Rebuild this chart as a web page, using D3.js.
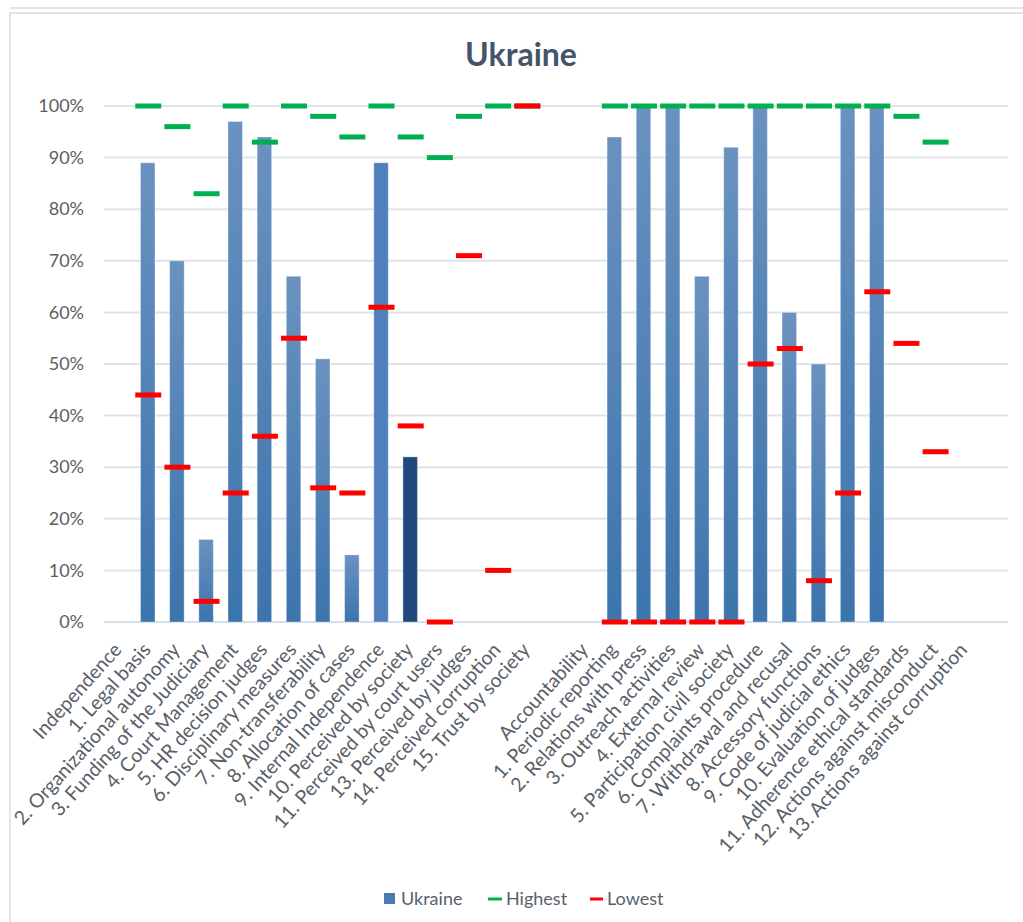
<!DOCTYPE html>
<html>
<head>
  <meta charset="utf-8">
  <title>Ukraine</title>
  <style>
    body { margin: 0; background: #fff; }
    text { font-family: Lato, "Open Sans", sans-serif; }
  </style>
</head>
<body>
  <div class="area"></div>

  <script src="https://cdn.jsdelivr.net/npm/d3@7"></script>
  <script type="text/javascript">

  var W = 1023, H = 922;

  // categories (blank entries are the empty slots between groups)
  var categories = [
    'Independence', '1. Legal basis', '2. Organizational autonomy', '3. Funding of the Judiciary',
    '4. Court Management', '5. HR decision judges', '6. Disciplinary measures', '7. Non-transferability',
    '8. Allocation of cases', '9. Internal Independence', '10. Perceived by society',
    '11. Perceived by court users', '13. Perceived by judges', '14. Perceived corruption',
    '15. Trust by society', '',
    'Accountability', '1. Periodic reporting', '2. Relations with press', '3. Outreach activities',
    '4. External review', '5. Participation civil society', '6. Complaints procedure',
    '7. Withdrawal and recusal', '8. Accessory functions', '9. Code of judicial ethics',
    '10. Evaluation of judges', '11. Adherence ethical standards', '12. Actions against misconduct',
    '13. Actions against corruption', ''
  ];

  var ukraine = [null, 89, 70, 16, 97, 94, 67, 51, 13, 89, 32, null, null, null, null, null,
                 null, 94, 100, 100, 67, 92, 100, 60, 50, 100, 100, null, null, null, null];
  var highest = [null, 100, 96, 83, 100, 93, 100, 98, 94, 100, 94, 90, 98, 100, 100, null,
                 null, 100, 100, 100, 100, 100, 100, 100, 100, 100, 100, 98, 93, null, null];
  var lowest  = [null, 44, 30, 4, 25, 36, 55, 26, 25, 61, 38, 0, 71, 10, 100, null,
                 null, 0, 0, 0, 0, 0, 50, 53, 8, 25, 64, 54, 33, null, null];

  var yTicks = [0, 10, 20, 30, 40, 50, 60, 70, 80, 90, 100];
  var legendItems = ['Ukraine', 'Highest', 'Lowest'];

  var plot = {left: 104, right: 1008, top: 106, bottom: 622};
  var textColor = '#595f69';

  var svg = d3.select('.area')
    .append('svg')
    .attr('width', W)
    .attr('height', H);

  // chart frame (outer box borders)
  svg.append('line').attr('x1', 10).attr('y1', 8).attr('x2', W).attr('y2', 8)
    .attr('stroke', '#e1e4ea').attr('stroke-width', 2);
  svg.append('rect').attr('x', 10).attr('y', 13).attr('width', W + 10).attr('height', H + 10)
    .attr('fill', 'none').attr('stroke', '#e1e4ea').attr('stroke-width', 2);

  svg.append('text')
    .attr('x', 521).attr('y', 66)
    .attr('text-anchor', 'middle')
    .attr('font-size', 32).attr('font-weight', 'bold')
    .attr('fill', '#44546a')
    .text('Ukraine');

  var idx = d3.range(categories.length);
  var x = d3.scaleBand().domain(idx).range([plot.left, plot.right]).padding(0);
  var y = d3.scaleLinear().domain([0, 100]).range([plot.bottom, plot.top]);

  // gradient for the bars
  var defs = svg.append('defs');
  var grad = defs.append('linearGradient').attr('id', 'barGrad')
    .attr('x1', 0).attr('y1', 0).attr('x2', 0).attr('y2', 1);
  grad.append('stop').attr('offset', '0%').attr('stop-color', '#6a92c0');
  grad.append('stop').attr('offset', '100%').attr('stop-color', '#3c74ad');

  // gridlines
  svg.append('g')
    .selectAll('line')
    .data(yTicks)
    .join('line')
    .attr('x1', plot.left).attr('x2', plot.right)
    .attr('y1', function(d){ return y(d); })
    .attr('y2', function(d){ return y(d); })
    .attr('stroke', function(d){ return d === 0 ? '#d6dfec' : '#dfe3ea'; })
    .attr('stroke-width', 2);

  // y axis labels
  var yAxis = d3.axisLeft(y).tickValues(yTicks).tickSize(0).tickPadding(0)
    .tickFormat(function(d){ return d + '%'; });
  var yg = svg.append('g').attr('transform', 'translate(84,0)').call(yAxis);
  yg.select('.domain').remove();
  yg.selectAll('text')
    .attr('font-size', 18).attr('fill', textColor)
    .attr('font-family', 'Lato, sans-serif');

  // bars
  var bw = 14.5;
  svg.append('g')
    .selectAll('rect')
    .data(idx.filter(function(i){ return ukraine[i] != null; }))
    .join('rect')
    .attr('x', function(i){ return x(i) + x.bandwidth() / 2 - bw / 2; })
    .attr('width', bw)
    .attr('y', function(i){ return y(ukraine[i]); })
    .attr('height', function(i){ return y(0) - y(ukraine[i]); })
    .attr('fill', function(i){
      if (i === 9) return '#4f80bc';
      if (i === 10) return '#1f497d';
      return 'url(#barGrad)';
    })
    .attr('stroke', 'rgba(255,255,255,0.35)')
    .attr('stroke-width', 1);

  // markers: highest then lowest (lowest drawn on top)
  var mw = 26, mh = 5;
  function markers(vals, color){
    svg.append('g')
      .selectAll('rect')
      .data(idx.filter(function(i){ return vals[i] != null; }))
      .join('rect')
      .attr('x', function(i){ return x(i) + x.bandwidth() / 2 - mw / 2 + 0.5; })
      .attr('y', function(i){ return y(vals[i]) - mh / 2; })
      .attr('width', mw)
      .attr('height', mh)
      .attr('fill', color);
  }
  markers(highest, '#00b050');
  markers(lowest, '#ff0000');

  // x labels, rotated
  svg.append('g')
    .selectAll('text')
    .data(idx)
    .join('text')
    .attr('transform', function(i){
      return 'translate(' + (x(i) + x.bandwidth() / 2 - 1) + ',' + 646 + ') rotate(-48)';
    })
    .attr('text-anchor', 'end')
    .attr('dy', '0.35em')
    .attr('font-size', 19.5)
    .attr('fill', textColor)
    .text(function(i){ return categories[i]; });

  // legend
  var lg = svg.append('g');
  var lx = [384, 488, 590];
  var ltx = [401, 506, 607];
  lg.append('rect').attr('x', lx[0]).attr('y', 893).attr('width', 11).attr('height', 11).attr('fill', '#4a7bb5');
  lg.append('rect').attr('x', lx[1]).attr('y', 897.5).attr('width', 14).attr('height', 3).attr('fill', '#00b050');
  lg.append('rect').attr('x', lx[2]).attr('y', 897.5).attr('width', 13).attr('height', 3).attr('fill', '#ff0000');
  lg.selectAll('text')
    .data(legendItems)
    .join('text')
    .attr('x', function(d, i){ return ltx[i]; })
    .attr('y', 905)
    .attr('font-size', 18)
    .attr('fill', textColor)
    .text(function(d){ return d; });

  </script>
</body>
</html>
